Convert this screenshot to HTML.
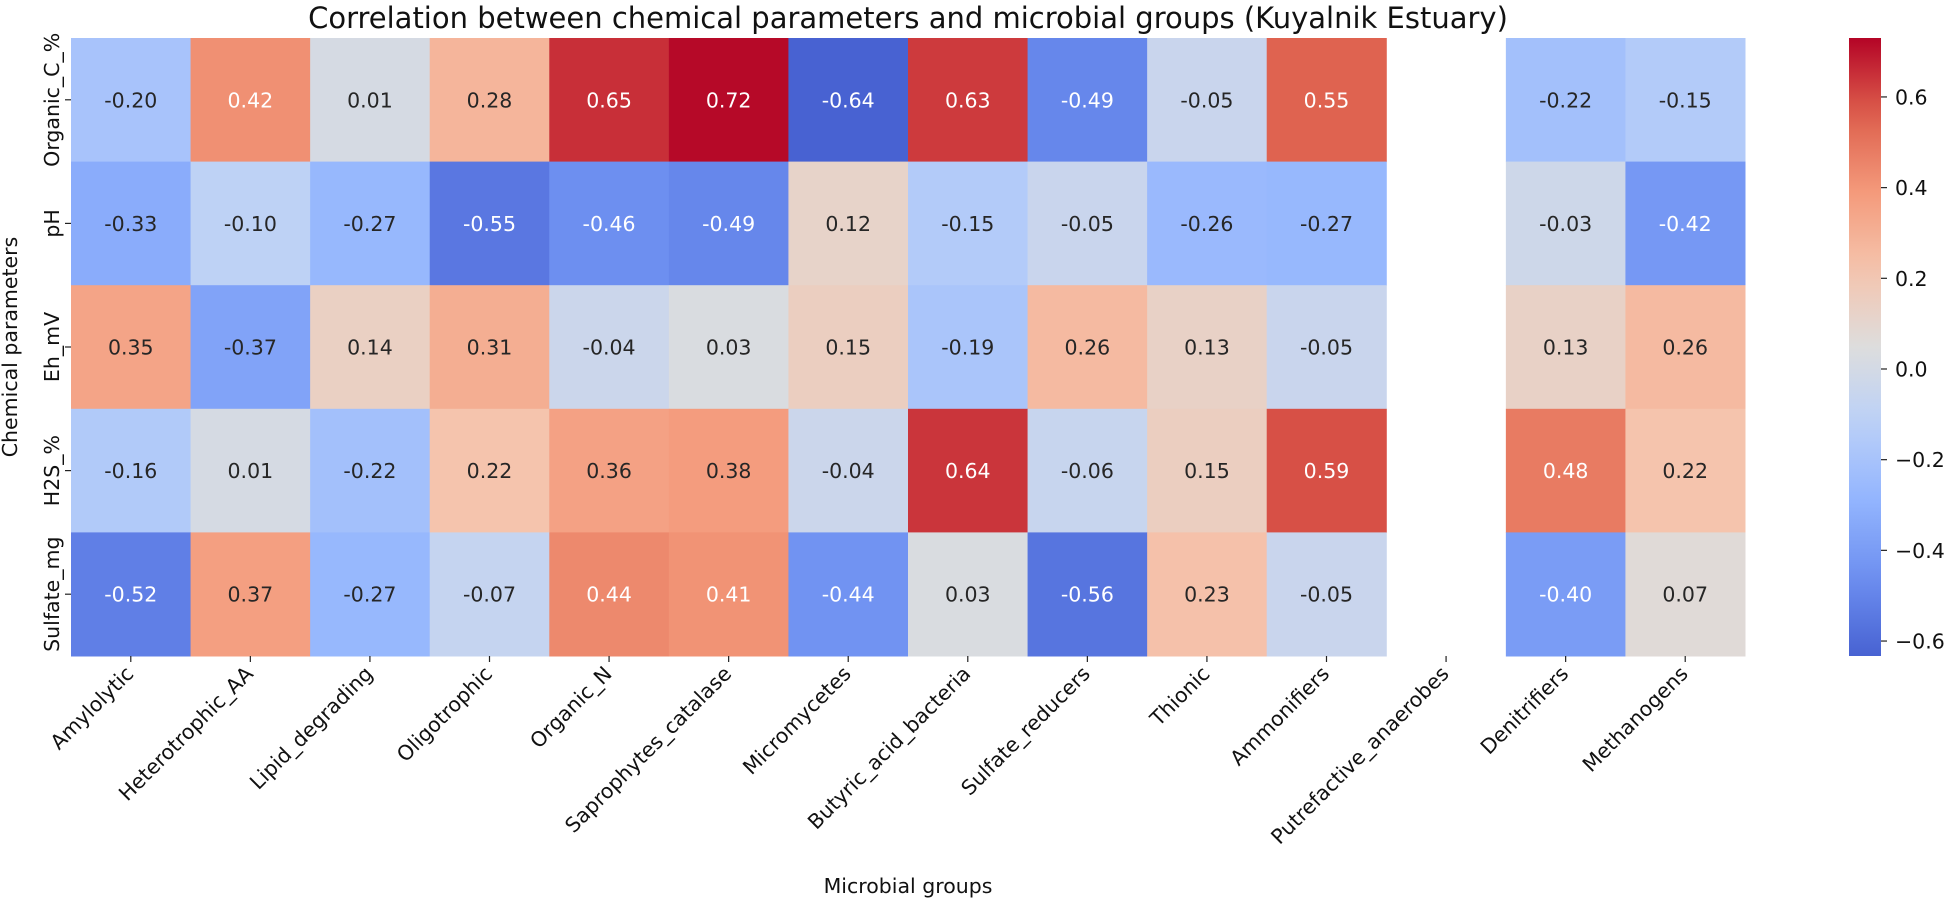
<!DOCTYPE html>
<html><head><meta charset="utf-8"><style>
body{margin:0;background:#fff;}
svg text{font-family:"DejaVu Sans","Liberation Sans",sans-serif;fill:#111;}
</style></head><body>
<svg id="chart" width="1949" height="902" viewBox="0 0 1949 902" xmlns="http://www.w3.org/2000/svg">
<text x="908" y="28" font-size="29" text-anchor="middle">Correlation between chemical parameters and microbial groups (Kuyalnik Estuary)</text>
<text x="908" y="893" font-size="20.5" text-anchor="middle">Microbial groups</text>
<text transform="translate(17,347) rotate(-90)" font-size="20.5" text-anchor="middle">Chemical parameters</text>
<g id="cells"></g>
<g id="xticks"></g>
<g id="yticks"></g>
<defs><linearGradient id="cbgrad" x1="0" y1="1" x2="0" y2="0"></linearGradient></defs>
<g id="cbar"></g>
</svg>
<script>
const columns = ["Amylolytic","Heterotrophic_AA","Lipid_degrading","Oligotrophic","Organic_N","Saprophytes_catalase","Micromycetes","Butyric_acid_bacteria","Sulfate_reducers","Thionic","Ammonifiers","Putrefactive_anaerobes","Denitrifiers","Methanogens"];
const rows = ["Organic_C_%","pH","Eh_mV","H2S_%","Sulfate_mg"];
const organicC = [-0.20,0.42,0.01,0.28,0.65,0.72,-0.64,0.63,-0.49,-0.05,0.55,null,-0.22,-0.15];
const pH = [-0.33,-0.10,-0.27,-0.55,-0.46,-0.49,0.12,-0.15,-0.05,-0.26,-0.27,null,-0.03,-0.42];
const ehMV = [0.35,-0.37,0.14,0.31,-0.04,0.03,0.15,-0.19,0.26,0.13,-0.05,null,0.13,0.26];
const h2s = [-0.16,0.01,-0.22,0.22,0.36,0.38,-0.04,0.64,-0.06,0.15,0.59,null,0.48,0.22];
const sulfate = [-0.52,0.37,-0.27,-0.07,0.44,0.41,-0.44,0.03,-0.56,0.23,-0.05,null,-0.40,0.07];
const matrix = [organicC,pH,ehMV,h2s,sulfate];
const cbTicks = [0.6,0.4,0.2,0.0,-0.2,-0.4,-0.6];
const vmin = -0.633, vmax = 0.730;

const NS="http://www.w3.org/2000/svg";
const L=71,R=1745,T=38,B=656;
const cw=(R-L)/columns.length, rh=(B-T)/rows.length;
const xPos=i=>L+i*cw, yPos=j=>T+j*rh;
const stops=[[72,98,210],[108,142,240],[146,180,254],[186,208,248],[221,221,221],[245,196,173],[244,154,123],[222,96,77],[180,4,38]];
function cmap(t){t=Math.max(0,Math.min(1,t));const s=t*8,i=Math.min(7,Math.floor(s)),f=s-i;
 return stops[i].map((c,k)=>Math.round(c+(stops[i+1][k]-c)*f));}
const norm=v=>(v-vmin)/(vmax-vmin);
function mk(tag,attrs,parent){const e=document.createElementNS(NS,tag);for(const k in attrs)e.setAttribute(k,attrs[k]);parent.appendChild(e);return e;}

const cells=document.getElementById('cells');
matrix.forEach((row,j)=>row.forEach((v,i)=>{
 if(v===null)return;
 const c=cmap(norm(v));
 const r=mk('rect',{x:xPos(i),y:yPos(j),width:cw+0.5,height:rh+0.5,fill:`rgb(${c})`},cells);
 
 
 const white = v<=-0.4 || v>=0.4;
 const t=mk('text',{x:xPos(i)+cw/2,y:yPos(j)+rh/2+7.5,'font-size':20.5,'text-anchor':'middle',style:'fill:'+(white?'#fff':'#262626')},cells);
 
 
 t.textContent=v.toFixed(2);
}));
const xt=document.getElementById('xticks');
columns.forEach((n,i)=>{
 const cx=xPos(i)+cw/2;
 mk('line',{x1:cx,y1:B,x2:cx,y2:B+6,stroke:'#222','stroke-width':1.2},xt);
 const t=mk('text',{transform:`translate(${cx+4},${B+19}) rotate(-45)`,'font-size':20.5,'text-anchor':'end'},xt);
 
 
 t.textContent=n;
});
const yt=document.getElementById('yticks');
rows.forEach((n,j)=>{
 const cy=yPos(j)+rh/2;
 mk('line',{x1:L-6,y1:cy,x2:L,y2:cy,stroke:'#222','stroke-width':1.2},yt);
 const t=mk('text',{transform:`translate(${L-12},${cy}) rotate(-90)`,'font-size':20.5,'text-anchor':'middle'},yt);
 
 
 t.textContent=n;
});
const grad=document.getElementById('cbgrad');
for(let k=0;k<=20;k++){const c=cmap(k/20);mk('stop',{offset:k/20,'stop-color':`rgb(${c})`},grad);}
const cb=document.getElementById('cbar');
const CX=1849,CW=32;
const cbY=v=>B-(v-vmin)/(vmax-vmin)*(B-T);
const bar=mk('rect',{x:CX,y:T,width:CW,height:B-T,fill:'url(#cbgrad)'},cb);


cbTicks.forEach(v=>{
 const y=cbY(v);
 mk('line',{x1:CX+CW,y1:y,x2:CX+CW+6,y2:y,stroke:'#222','stroke-width':1.2},cb);
 const t=mk('text',{x:CX+CW+14,y:y+7.5,'font-size':20.5},cb);
 
 
 t.textContent=(v<0?'\u2212':'')+Math.abs(v).toFixed(1);
});
</script>
</body></html>
